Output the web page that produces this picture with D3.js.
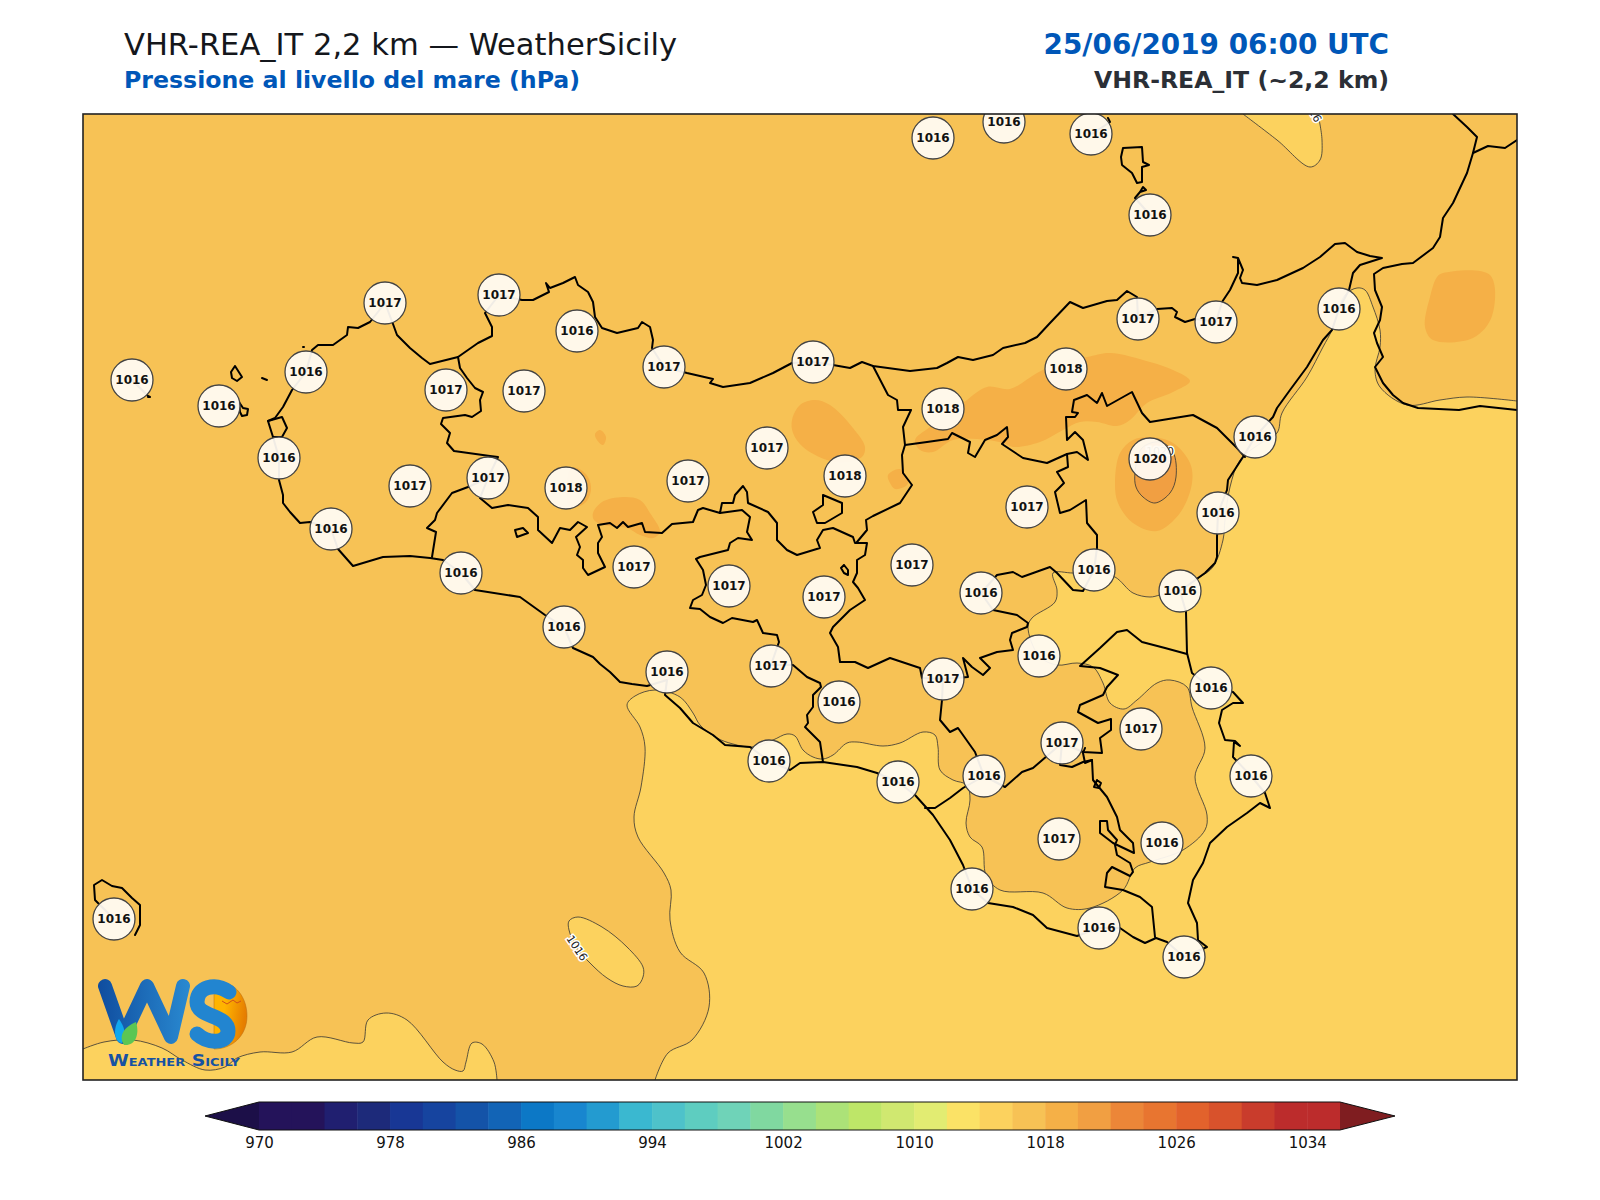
<!DOCTYPE html>
<html>
<head>
	<title>VHR-REA_IT Pressione</title>
	<script src="https://d3js.org/d3.v7.min.js"></script>
	<style>
		body { margin: 0; background: #fff; }
		text { font-family: "DejaVu Sans"; }
	</style>
</head>
<body>
	<div id="chart"></div>
	<script>

		// colour bar levels (hPa) and the colour of each 2 hPa band
		var levels = [970,972,974,976,978,980,982,984,986,988,990,992,994,996,998,1000,1002,1004,1006,1008,1010,1012,1014,1016,1018,1020,1022,1024,1026,1028,1030,1032,1034,1036];
		var bandColors = ["#24135a","#24135a","#201f70","#1d2a7a","#183795","#16449f","#1453a8","#1264b6","#0c78c6","#1886cf","#239bd0","#3ab8d0","#4ec2ca","#5ecdc0","#6fd3b8","#80d8a0","#97df8e","#ace278","#bee668","#d0e870","#e2ec72","#fbe266","#fcd25e","#f7c255","#f5b047","#f19f42","#ec8638","#e87530","#e2622c","#d8522c","#c93c2c","#bc2c2c","#bc2c2c"];
		var tickLabels = [970,978,986,994,1002,1010,1018,1026,1034];

		// station readings, map grid units
		var stationX = [933,1004,1091,1150,385,499,577,664,813,1138,1216,1339,132,219,306,446,524,1066,943,1255,279,410,488,566,688,767,845,1150,1218,1027,331,461,634,729,824,912,981,1094,1180,564,667,771,839,943,1039,1211,1062,1141,769,898,984,1251,1059,1162,972,1099,1184,114];
		var stationY = [138,122,134,215,303,295,331,367,362,319,322,309,380,406,372,390,391,369,409,437,458,486,478,488,481,448,476,459,513,507,529,573,567,586,597,565,593,570,591,627,672,666,702,679,656,688,743,729,761,782,776,776,839,843,889,928,957,919];
		var stationHpa = [1016,1016,1016,1016,1017,1017,1016,1017,1017,1017,1017,1016,1016,1016,1016,1017,1017,1018,1018,1016,1016,1017,1017,1018,1017,1017,1018,1020,1016,1017,1016,1016,1017,1017,1017,1017,1016,1016,1016,1016,1016,1017,1016,1017,1016,1016,1017,1017,1016,1016,1016,1016,1017,1016,1016,1016,1016,1016];

		// 1016 hPa contours
		var contourSouth = [[655,1080],[668,1053],[692,1040],[709,1007],[704,973],[680,952],[670,920],[671,890],[664,873],[638,837],[634,817],[641,787],[645,747],[640,727],[627,705],[635,696],[655,690],[680,697],[693,713],[700,725],[717,738],[733,744],[752,747],[773,740],[787,734],[795,736],[803,750],[813,757],[823,759],[833,755],[847,743],[857,742],[883,746],[900,743],[923,732],[935,735],[938,747],[940,770],[953,780],[967,785],[970,800],[966,823],[970,837],[982,847],[986,875],[1000,890],[1043,893],[1067,908],[1090,908],[1123,890],[1135,868],[1150,862],[1183,850],[1205,830],[1207,815],[1195,777],[1205,748],[1192,707],[1187,687],[1170,680],[1157,683],[1137,700],[1124,709],[1110,703],[1103,683],[1093,667],[1077,663],[1057,665],[1039,656],[1028,627],[1032,618],[1055,602],[1057,590],[1053,573],[1073,573],[1094,572],[1115,577],[1133,593],[1150,597],[1160,595],[1180,590],[1200,577],[1213,567],[1223,540],[1225,520],[1230,487],[1240,460],[1258,445],[1277,433],[1282,413],[1307,377],[1323,347],[1332,330],[1345,295],[1357,288],[1365,290],[1373,307],[1380,330],[1380,347],[1375,370],[1380,387],[1407,405],[1440,400],[1467,397],[1517,401]];
		var contourBottomLeft = [[83,1049],[104,1042],[133,1040],[162,1048],[182,1060],[205,1070],[225,1067],[237,1058],[260,1052],[292,1052],[317,1037],[353,1043],[363,1042],[368,1020],[386,1013],[407,1020],[443,1062],[455,1070],[463,1071],[466,1062],[472,1043],[482,1044],[494,1062],[497,1080]];
		var contourTop = [[1243,114],[1277,140],[1310,167],[1320,160],[1322,140],[1318,114]];
		var contourIsle = [[569,930],[569,921],[578,917],[602,927],[627,947],[643,967],[643,977],[637,986],[623,986],[607,978],[590,963],[577,948]];

		// filled patches above 1018 hPa
		var patches1018 = [
			[[915,440],[930,427],[963,403],[987,387],[1010,389],[1037,373],[1060,362],[1087,357],[1110,353],[1150,362],[1173,370],[1190,381],[1173,392],[1147,403],[1130,420],[1117,426],[1097,422],[1080,422],[1063,430],[1040,442],[1013,447],[1003,443],[987,440],[953,440],[933,452],[920,450]],
			[[792,420],[800,405],[815,400],[830,405],[853,428],[865,447],[862,457],[845,462],[827,460],[803,447],[793,433]],
			[[600,430],[606,437],[603,445],[597,440],[595,434]],
			[[593,513],[602,502],[623,497],[640,500],[650,513],[660,532],[653,538],[640,535],[627,528],[603,525],[594,520]],
			[[570,470],[577,468],[588,477],[591,490],[585,503],[570,507]],
			[[888,475],[900,469],[908,480],[907,485],[895,489],[890,483]],
			[[1115,483],[1120,453],[1133,440],[1150,437],[1173,443],[1190,463],[1192,483],[1180,513],[1157,531],[1133,523],[1118,503]],
			[[1437,277],[1443,273],[1490,275],[1492,316],[1473,338],[1433,340],[1425,327],[1430,297]]
		];
		// 1020 hPa contour on Etna
		var contourEtna = [[1135,473],[1136,487],[1143,497],[1155,503],[1170,493],[1176,477],[1173,452],[1160,442],[1142,448]];

		// contour labels: position, angle, text
		var contourLabels = [[577,948,56,"1016"],[1312,109,62,"1016"],[1160,451,0,"1020"]];

		// coast of the main island, Trapani round to Trapani
		var coastMain = [[279,458],[279,480],[283,495],[283,503],[290,512],[300,523],[310,522],[331,529],[338,549],[353,566],[383,557],[410,556],[430,558],[443,560],[461,573],[475,590],[520,597],[545,615],[564,627],[573,648],[593,657],[600,664],[610,672],[620,682],[632,684],[647,686],[667,680],[665,695],[680,708],[693,723],[713,735],[725,745],[750,747],[769,761],[790,770],[800,763],[823,762],[857,767],[877,773],[898,782],[915,795],[933,815],[950,840],[963,865],[972,889],[988,903],[1013,907],[1033,915],[1047,928],[1077,936],[1099,928],[1120,928],[1133,937],[1145,943],[1156,938],[1167,942],[1184,957],[1207,947],[1198,940],[1197,923],[1188,903],[1193,880],[1203,863],[1210,843],[1227,827],[1247,813],[1260,803],[1270,808],[1265,793],[1251,776],[1233,757],[1234,742],[1240,746],[1235,741],[1225,740],[1219,723],[1222,710],[1233,703],[1243,703],[1233,692],[1211,688],[1192,673],[1187,653],[1186,612],[1180,591],[1205,573],[1215,563],[1217,557],[1217,537],[1218,513],[1227,490],[1228,480],[1243,457],[1255,437],[1273,417],[1277,408],[1290,390],[1307,367],[1323,340],[1332,330],[1339,309],[1349,290],[1353,273],[1360,265],[1382,258],[1370,256],[1357,252],[1345,243],[1335,244],[1320,257],[1303,268],[1277,280],[1257,285],[1242,283],[1240,278],[1243,270],[1238,258],[1233,257],[1238,258],[1238,273],[1230,290],[1222,302],[1216,322],[1195,319],[1185,322],[1175,317],[1177,312],[1172,308],[1157,309],[1138,319],[1137,297],[1127,291],[1117,300],[1107,301],[1083,308],[1070,302],[1050,323],[1037,337],[1025,343],[1003,348],[993,355],[973,360],[958,357],[947,363],[937,368],[910,371],[873,366],[862,362],[850,368],[833,365],[813,362],[792,363],[773,373],[750,383],[723,387],[710,383],[713,379],[687,373],[664,367],[652,348],[653,340],[650,327],[642,322],[638,328],[617,333],[602,328],[595,317],[593,302],[588,292],[578,285],[575,277],[563,283],[550,288],[546,283],[549,292],[533,300],[522,300],[499,295],[485,313],[492,327],[492,336],[478,343],[458,357],[430,364],[422,358],[410,348],[397,335],[393,324],[385,303],[370,322],[358,328],[348,327],[347,335],[333,345],[318,345],[312,350],[306,372],[292,390],[283,407],[275,418],[268,421],[273,437],[279,458]];

		// province borders
		var borders = [
			[[458,357],[460,368],[467,378],[475,388],[483,392],[480,400],[481,411],[472,417],[465,415],[443,418],[441,424],[450,433],[447,443],[454,451],[490,456],[498,457],[488,478],[468,487],[452,493],[437,513],[435,520],[427,528],[436,532],[432,557]],
			[[488,478],[480,498],[492,508],[508,505],[528,508],[538,517],[538,530],[552,543],[560,528],[570,530],[578,522],[587,527],[576,537],[580,547],[577,555],[583,560],[583,568],[588,575],[605,567],[598,553],[598,543],[602,537],[598,525],[610,523],[617,528],[623,522],[628,527],[642,523],[645,532],[662,533],[672,524],[693,522],[698,510],[703,508],[720,513],[722,503],[733,503],[735,495],[743,486],[747,492],[748,503],[768,512],[777,523],[777,540],[787,550],[797,555],[820,548],[817,540],[823,530],[833,528],[853,537],[855,543],[867,543],[865,555],[857,560],[857,573],[853,582],[858,588],[865,600],[850,610],[833,627],[830,633],[838,647],[840,662],[855,662],[868,668],[890,658],[920,668],[922,678],[943,679]],
			[[720,513],[742,510],[750,517],[747,532],[752,540],[738,538],[730,543],[728,550],[700,557],[696,559],[703,570],[706,585],[702,595],[693,600],[690,608],[700,609],[710,617],[723,623],[732,618],[753,622],[757,620],[763,633],[777,635],[779,642],[771,665],[793,665],[807,677],[820,683],[821,687],[813,695],[813,707],[807,715],[808,723],[805,727],[820,742],[823,762]],
			[[857,542],[867,530],[866,520],[873,516],[900,503],[912,485],[903,473],[902,455],[905,445],[903,427],[911,410],[898,410],[897,400],[888,395],[873,366]],
			[[905,445],[927,442],[948,439],[952,433],[970,442],[968,453],[975,457],[985,440],[997,435],[1007,427],[1008,437],[1002,444],[1023,458],[1047,463],[1067,454],[1077,452],[1088,460],[1083,440],[1075,432],[1067,440],[1066,417],[1075,417],[1078,413],[1072,412],[1074,400],[1087,395],[1097,403],[1102,393],[1107,406],[1132,392],[1142,413],[1150,422],[1193,415],[1217,428],[1237,448],[1245,457]],
			[[1067,454],[1068,467],[1057,472],[1064,483],[1055,492],[1060,513],[1070,510],[1086,500],[1087,523],[1097,535],[1097,548],[1094,570]],
			[[981,593],[997,575],[1013,572],[1022,577],[1050,567],[1057,573],[1073,590],[1083,591],[1094,570]],
			[[981,593],[993,610],[1017,615],[1028,623],[1027,627],[1012,633],[1010,640],[1013,650],[997,652],[980,658],[990,668],[983,675],[972,667],[963,658],[968,677],[943,679]],
			[[943,679],[942,700],[940,720],[950,732],[958,728],[975,752],[984,776],[963,788],[950,798],[935,808],[925,808]],
			[[984,776],[1005,787],[1022,772],[1033,768],[1040,762],[1062,743],[1060,765],[1072,767],[1083,762],[1092,760],[1093,780],[1107,797],[1117,817],[1120,830],[1133,843],[1134,853],[1113,843],[1100,833],[1100,821],[1107,821],[1108,830],[1117,840],[1115,845],[1117,855],[1130,863],[1133,872],[1130,876],[1112,867],[1107,873],[1105,887],[1123,890],[1140,897],[1152,907],[1155,937]],
			[[1062,743],[1083,752],[1102,753],[1100,738],[1111,730],[1111,719],[1098,723],[1078,712],[1080,705],[1103,695],[1107,687],[1118,675],[1100,668],[1080,666],[1100,648],[1117,632],[1127,630],[1142,642],[1165,648],[1187,654]],
			[[1085,748],[1083,753],[1085,763],[1092,760]]
		];

		// Calabria and small islands
		var coastCalabria = [[1453,114],[1467,127],[1477,137],[1473,153],[1467,173],[1453,203],[1443,218],[1440,237],[1433,248],[1413,263],[1402,264],[1383,268],[1374,274],[1375,290],[1382,307],[1380,320],[1374,333],[1377,343],[1383,357],[1375,367],[1383,383],[1393,395],[1403,403],[1418,408],[1459,410],[1480,406],[1517,410]];
		var coastCalabria2 = [[1473,153],[1488,146],[1505,148],[1517,140]];
		var islands = [
			[[1123,148],[1142,147],[1143,162],[1149,165],[1142,167],[1142,182],[1137,183],[1132,173],[1122,165],[1121,157],[1123,148]],
			[[1150,215],[1135,198],[1140,192],[1143,187],[1146,190],[1140,192]],
			[[1092,134],[1110,122],[1108,118]],
			[[239,402],[243,408],[248,409],[247,415],[242,416],[240,412],[239,402]],
			[[235,366],[242,377],[237,381],[232,378],[231,372],[235,366]],
			[[132,380],[148,396],[150,397],[148,397]],
			[[262,378],[267,380]],
			[[303,347],[304,347]],
			[[823,495],[842,503],[842,513],[825,523],[817,523],[813,512],[823,505],[823,495]],
			[[515,530],[523,528],[528,533],[517,537],[515,530]],
			[[844,565],[848,570],[848,575],[844,573],[841,568],[844,565]],
			[[1097,780],[1101,783],[1099,788],[1094,787],[1097,780]],
			[[268,421],[282,417],[287,428],[282,437],[273,437]],
			[[114,919],[95,900],[94,885],[102,880],[112,886],[122,888],[132,898],[140,905],[140,925],[135,935]]
		];

		var svg = d3.select("#chart").append("svg")
			.attr("width", 1600)
			.attr("height", 1200);

		var plot = { left: 83, top: 114, right: 1517, bottom: 1080 };

		var x = d3.scaleLinear().domain([plot.left, plot.right]).range([0, plot.right - plot.left]);
		var y = d3.scaleLinear().domain([plot.top, plot.bottom]).range([0, plot.bottom - plot.top]);

		var pressureColor = d3.scaleThreshold().domain(levels.slice(1, -1)).range(bandColors);

		svg.append("clipPath").attr("id", "map-clip")
			.append("rect")
			.attr("width", x(plot.right))
			.attr("height", y(plot.bottom));

		var map = svg.append("g")
			.attr("transform", "translate(" + plot.left + "," + plot.top + ")")
			.attr("clip-path", "url(#map-clip)");

		map.append("rect")
			.attr("width", x(plot.right))
			.attr("height", y(plot.bottom))
			.attr("fill", pressureColor(1017));

		var smoothLine = d3.line().x(function (d) { return x(d[0]); }).y(function (d) { return y(d[1]); }).curve(d3.curveCatmullRom);
		var closedLine = d3.line().x(function (d) { return x(d[0]); }).y(function (d) { return y(d[1]); }).curve(d3.curveCatmullRomClosed);
		var roughLine = d3.line().x(function (d) { return x(d[0]); }).y(function (d) { return y(d[1]); });

		// light band below 1016
		map.append("path")
			.attr("d", smoothLine(contourSouth) + "L" + x(plot.right) + "," + y(plot.bottom) + "Z")
			.attr("fill", pressureColor(1015));
		map.append("path")
			.attr("d", smoothLine(contourBottomLeft) + "L" + x(plot.left) + "," + y(plot.bottom) + "Z")
			.attr("fill", pressureColor(1015));
		map.append("path")
			.attr("d", smoothLine(contourTop) + "Z")
			.attr("fill", pressureColor(1015));
		map.append("path")
			.attr("d", closedLine(contourIsle))
			.attr("fill", pressureColor(1015));

		map.selectAll(".patch")
			.data(patches1018)
			.enter().append("path")
			.attr("class", "patch")
			.attr("d", closedLine)
			.attr("fill", pressureColor(1019));

		map.append("path")
			.attr("d", closedLine(contourEtna))
			.attr("fill", pressureColor(1021));

		// thin contour lines
		[contourSouth, contourBottomLeft, contourTop].forEach(function (c) {
			map.append("path")
				.attr("d", smoothLine(c))
				.attr("fill", "none")
				.attr("stroke", "#333")
				.attr("stroke-width", 0.8);
		});
		[contourIsle, contourEtna].forEach(function (c) {
			map.append("path")
				.attr("d", closedLine(c))
				.attr("fill", "none")
				.attr("stroke", "#333")
				.attr("stroke-width", 0.8);
		});

		map.selectAll(".clabel")
			.data(contourLabels)
			.enter().append("text")
			.attr("class", "clabel")
			.attr("transform", function (d) { return "translate(" + x(d[0]) + "," + y(d[1]) + ") rotate(" + d[2] + ")"; })
			.attr("text-anchor", "middle")
			.attr("dy", "0.35em")
			.attr("font-size", 11)
			.attr("fill", "#222")
			.attr("stroke", "#fff")
			.attr("stroke-width", 3)
			.attr("paint-order", "stroke")
			.text(function (d) { return d[3]; });

		// coast and borders
		var coastLines = [coastMain, coastCalabria, coastCalabria2].concat(borders, islands);
		map.selectAll(".coast")
			.data(coastLines)
			.enter().append("path")
			.attr("class", "coast")
			.attr("d", roughLine)
			.attr("fill", "none")
			.attr("stroke", "#000")
			.attr("stroke-width", 2)
			.attr("stroke-linejoin", "round")
			.attr("stroke-linecap", "round");

		// station circles
		var stations = map.selectAll(".station")
			.data(stationHpa)
			.enter().append("g")
			.attr("class", "station")
			.attr("transform", function (d, i) { return "translate(" + x(stationX[i]) + "," + y(stationY[i]) + ")"; });

		stations.append("circle")
			.attr("r", 21)
			.attr("fill", "#fffbf3")
			.attr("fill-opacity", 0.94)
			.attr("stroke", "#444")
			.attr("stroke-width", 1.3);

		stations.append("text")
			.attr("text-anchor", "middle")
			.attr("dy", "0.36em")
			.attr("font-size", 12)
			.attr("font-weight", "bold")
			.attr("fill", "#111")
			.text(function (d) { return d; });

		// frame
		svg.append("rect")
			.attr("x", plot.left)
			.attr("y", plot.top)
			.attr("width", x(plot.right))
			.attr("height", y(plot.bottom))
			.attr("fill", "none")
			.attr("stroke", "#222")
			.attr("stroke-width", 1.6);

		// logo, drawn over the map
		var defs = svg.append("defs");
		var wGrad = defs.append("linearGradient").attr("id", "w-grad").attr("gradientUnits", "userSpaceOnUse")
			.attr("x1", 97).attr("x2", 192).attr("y1", 0).attr("y2", 0);
		wGrad.append("stop").attr("offset", "0%").attr("stop-color", "#0f4c9e");
		wGrad.append("stop").attr("offset", "100%").attr("stop-color", "#2a8bd2");
		var sunGrad = defs.append("linearGradient").attr("id", "sun-grad").attr("x1", 0).attr("x2", 1).attr("y1", 0).attr("y2", 0.3);
		sunGrad.append("stop").attr("offset", "40%").attr("stop-color", "#ffb400");
		sunGrad.append("stop").attr("offset", "100%").attr("stop-color", "#e67e00");

		var logo = svg.append("g");
		logo.append("path")
			.attr("d", "M214 981 C238 981 247 1000 247 1016 C247 1036 232 1049 214 1049 Z")
			.attr("fill", "url(#sun-grad)")
			.attr("stroke", "#b86a10")
			.attr("stroke-width", 0.5);
		logo.append("path")
			.attr("d", "M105 986 L123 1037 L147 986 L171 1037 L183 986")
			.attr("fill", "none")
			.attr("stroke", "url(#w-grad)")
			.attr("stroke-width", 14)
			.attr("stroke-linejoin", "round")
			.attr("stroke-linecap", "round");
		logo.append("path")
			.attr("d", "M229 992 C215 982 197 987 197 1002 C197 1018 228 1014 228 1031 C228 1044 208 1044 197 1034")
			.attr("fill", "none")
			.attr("stroke", "#2285d0")
			.attr("stroke-width", 15)
			.attr("stroke-linecap", "round");
		logo.append("path")
			.attr("d", "M119 1019 C124 1026 127 1034 122 1043 C115 1043 112 1030 119 1019 Z")
			.attr("fill", "#10a8ee");
		logo.append("path")
			.attr("d", "M136 1022 C140 1035 135 1046 124 1045 C118 1036 124 1027 136 1022 Z")
			.attr("fill", "#5cc653");
		logo.append("path")
			.attr("d", "M222 1001 L227 1004 L233 1000 L237 1003 L241 1001")
			.attr("fill", "none")
			.attr("stroke", "#d0501a")
			.attr("stroke-width", 1);
		logo.append("text")
			.attr("x", 108)
			.attr("y", 1066)
			.attr("font-size", 16)
			.attr("font-weight", "bold")
			.attr("font-variant", "small-caps")
			.attr("textLength", 132)
			.attr("lengthAdjust", "spacingAndGlyphs")
			.attr("fill", "#1652a3")
			.text("Weather Sicily");

		// colour bar
		var barX = d3.scaleLinear().domain([970, 1036]).range([259, 1340]);
		var barTop = 1102, barHeight = 28;
		var bar = svg.append("g");

		bar.selectAll(".cell")
			.data(bandColors)
			.enter().append("rect")
			.attr("class", "cell")
			.attr("x", function (d, i) { return barX(levels[i]); })
			.attr("y", barTop)
			.attr("width", function (d, i) { return barX(levels[i + 1]) - barX(levels[i]) + 0.5; })
			.attr("height", barHeight)
			.attr("fill", function (d) { return d; });

		bar.append("path")
			.attr("d", "M" + barX(970) + "," + barTop + "L205," + (barTop + barHeight / 2) + "L" + barX(970) + "," + (barTop + barHeight) + "Z")
			.attr("fill", "#1c0f48");
		bar.append("path")
			.attr("d", "M" + barX(1036) + "," + barTop + "L1395," + (barTop + barHeight / 2) + "L" + barX(1036) + "," + (barTop + barHeight) + "Z")
			.attr("fill", "#7f1d20");

		bar.append("path")
			.attr("d", "M" + barX(970) + "," + barTop + "L205," + (barTop + barHeight / 2) + "L" + barX(970) + "," + (barTop + barHeight) + "L" + barX(1036) + "," + (barTop + barHeight) + "L1395," + (barTop + barHeight / 2) + "L" + barX(1036) + "," + barTop + "Z")
			.attr("fill", "none")
			.attr("stroke", "#111")
			.attr("stroke-width", 1);

		var axis = d3.axisBottom(barX).tickValues(tickLabels).tickSize(0).tickPadding(7).tickFormat(d3.format("d"));
		var axisG = bar.append("g")
			.attr("transform", "translate(0," + (barTop + barHeight) + ")")
			.call(axis);
		axisG.select(".domain").remove();
		axisG.selectAll("text")
			.attr("font-size", 15)
			.attr("font-family", "DejaVu Sans")
			.attr("fill", "#111");

		// titles
		svg.append("text").attr("x", 124).attr("y", 55)
			.attr("font-size", 30.55).attr("fill", "#14171c")
			.text("VHR-REA_IT 2,2 km — WeatherSicily");
		svg.append("text").attr("x", 124).attr("y", 88)
			.attr("font-size", 23.65).attr("font-weight", "bold").attr("fill", "#0057b8")
			.text("Pressione al livello del mare (hPa)");
		svg.append("text").attr("x", 1389).attr("y", 54).attr("text-anchor", "end")
			.attr("font-size", 27.85).attr("font-weight", "bold").attr("fill", "#0057b8")
			.text("25/06/2019 06:00 UTC");
		svg.append("text").attr("x", 1389).attr("y", 88).attr("text-anchor", "end")
			.attr("font-size", 23.6).attr("font-weight", "bold").attr("fill", "#2b2f36")
			.text("VHR-REA_IT (~2,2 km)");

	</script>
</body>
</html>
